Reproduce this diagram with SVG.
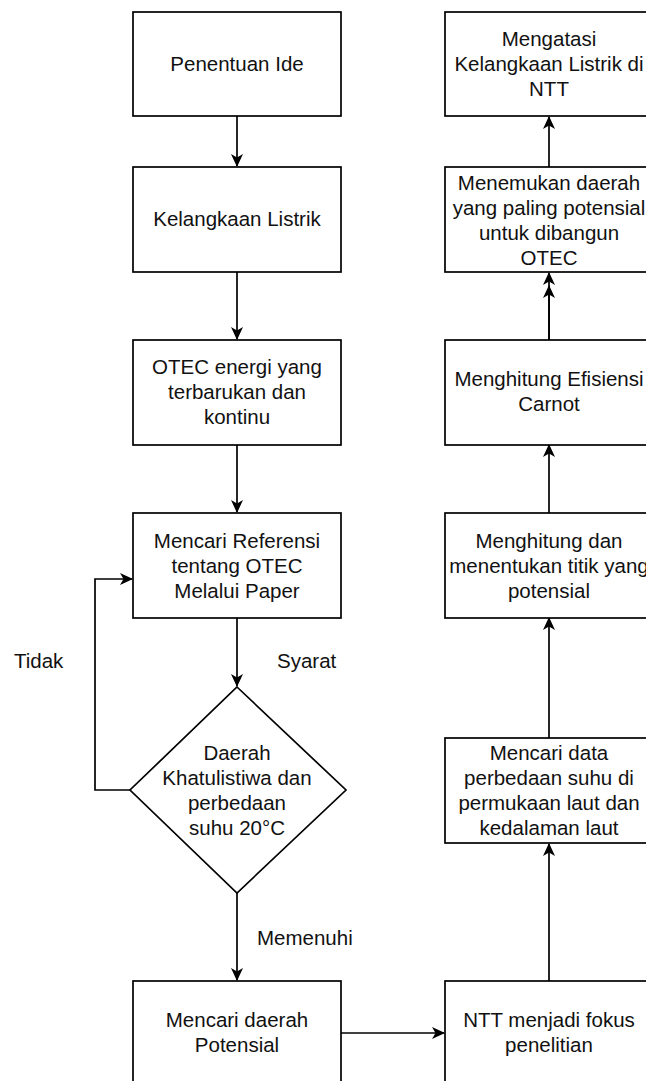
<svg xmlns="http://www.w3.org/2000/svg" width="646" height="1081" viewBox="0 0 646 1081">
<style>
.box{fill:#fff;stroke:#000;stroke-width:1.7}
.t{font-family:"Liberation Sans",Arial,Helvetica,sans-serif;font-size:20.5px;fill:#111;text-anchor:middle}
.l{font-family:"Liberation Sans",Arial,Helvetica,sans-serif;font-size:20.5px;fill:#111}
.e{fill:none;stroke:#000;stroke-width:1.7}
</style>
<defs>
<marker id="arr" viewBox="0 0 13 12" markerWidth="13" markerHeight="12" refX="12" refY="6" orient="auto" markerUnits="userSpaceOnUse">
<path d="M0,0 L13,6 L0,12 L3.5,6 Z" fill="#000"/>
</marker>
</defs>
<rect width="646" height="1081" fill="#fff"/>
<g id="edges">
<path class="e" d="M237,116 V166" marker-end="url(#arr)"/>
<path class="e" d="M237,272 V339" marker-end="url(#arr)"/>
<path class="e" d="M237,445 V512" marker-end="url(#arr)"/>
<path class="e" d="M237,618 V686" marker-end="url(#arr)"/>
<path class="e" d="M237,893 V980" marker-end="url(#arr)"/>
<path class="e" d="M130,790 H95 V579 H132" marker-end="url(#arr)"/>
<path class="e" d="M341,1033 H444" marker-end="url(#arr)"/>
<path class="e" d="M549,981 V844" marker-end="url(#arr)"/>
<path class="e" d="M549,738 V618" marker-end="url(#arr)"/>
<path class="e" d="M549,513 V445" marker-end="url(#arr)"/>
<path class="e" d="M549,340 V273" marker-end="url(#arr)"/>
<path class="e" d="M549,340 V286" marker-end="url(#arr)"/>
<path class="e" d="M549,167 V117" marker-end="url(#arr)"/>
</g>
<g id="label-tidak"><text class="l" x="14" y="668">Tidak</text></g>
<g id="label-syarat"><text class="l" x="277" y="668">Syarat</text></g>
<g id="label-memenuhi"><text class="l" x="257" y="945">Memenuhi</text></g>
<g id="n1"><rect class="box" x="133" y="12" width="208" height="104"/><text class="t" x="237" y="71">Penentuan Ide</text></g>
<g id="n2"><rect class="box" x="133" y="167" width="208" height="105"/><text class="t" x="237" y="226">Kelangkaan Listrik</text></g>
<g id="n3"><rect class="box" x="133" y="340" width="208" height="105"/><text class="t" x="237" y="374">OTEC energi yang</text><text class="t" x="237" y="399">terbarukan dan</text><text class="t" x="237" y="424">kontinu</text></g>
<g id="n4"><rect class="box" x="133" y="513" width="208" height="105"/><text class="t" x="237" y="548">Mencari Referensi</text><text class="t" x="237" y="573">tentang OTEC</text><text class="t" x="237" y="598">Melalui Paper</text></g>
<g id="n5"><path class="box" d="M237,687 L346,790 L237,893 L130,790 Z"/><text class="t" x="237" y="760">Daerah</text><text class="t" x="237" y="785">Khatulistiwa dan</text><text class="t" x="237" y="810">perbedaan</text><text class="t" x="237" y="835">suhu 20°C</text></g>
<g id="n6"><rect class="box" x="133" y="981" width="208" height="104"/><text class="t" x="237" y="1027">Mencari daerah</text><text class="t" x="237" y="1052">Potensial</text></g>
<g id="n7"><rect class="box" x="445" y="981" width="208" height="104"/><text class="t" x="549" y="1027">NTT menjadi fokus</text><text class="t" x="549" y="1052">penelitian</text></g>
<g id="n8"><rect class="box" x="445" y="738" width="208" height="105"/><text class="t" x="549" y="760">Mencari data</text><text class="t" x="549" y="785">perbedaan suhu di</text><text class="t" x="549" y="810">permukaan laut dan</text><text class="t" x="549" y="835">kedalaman laut</text></g>
<g id="n9"><rect class="box" x="445" y="513" width="208" height="105"/><text class="t" x="549" y="548">Menghitung dan</text><text class="t" x="549" y="573">menentukan titik yang</text><text class="t" x="549" y="598">potensial</text></g>
<g id="n10"><rect class="box" x="445" y="340" width="208" height="105"/><text class="t" x="549" y="386">Menghitung Efisiensi</text><text class="t" x="549" y="411">Carnot</text></g>
<g id="n11"><rect class="box" x="445" y="167" width="208" height="105"/><text class="t" x="549" y="190">Menemukan daerah</text><text class="t" x="549" y="215">yang paling potensial</text><text class="t" x="549" y="240">untuk dibangun</text><text class="t" x="549" y="265">OTEC</text></g>
<g id="n12"><rect class="box" x="445" y="12" width="208" height="104"/><text class="t" x="549" y="46">Mengatasi</text><text class="t" x="549" y="71">Kelangkaan Listrik di</text><text class="t" x="549" y="96">NTT</text></g>
</svg>
